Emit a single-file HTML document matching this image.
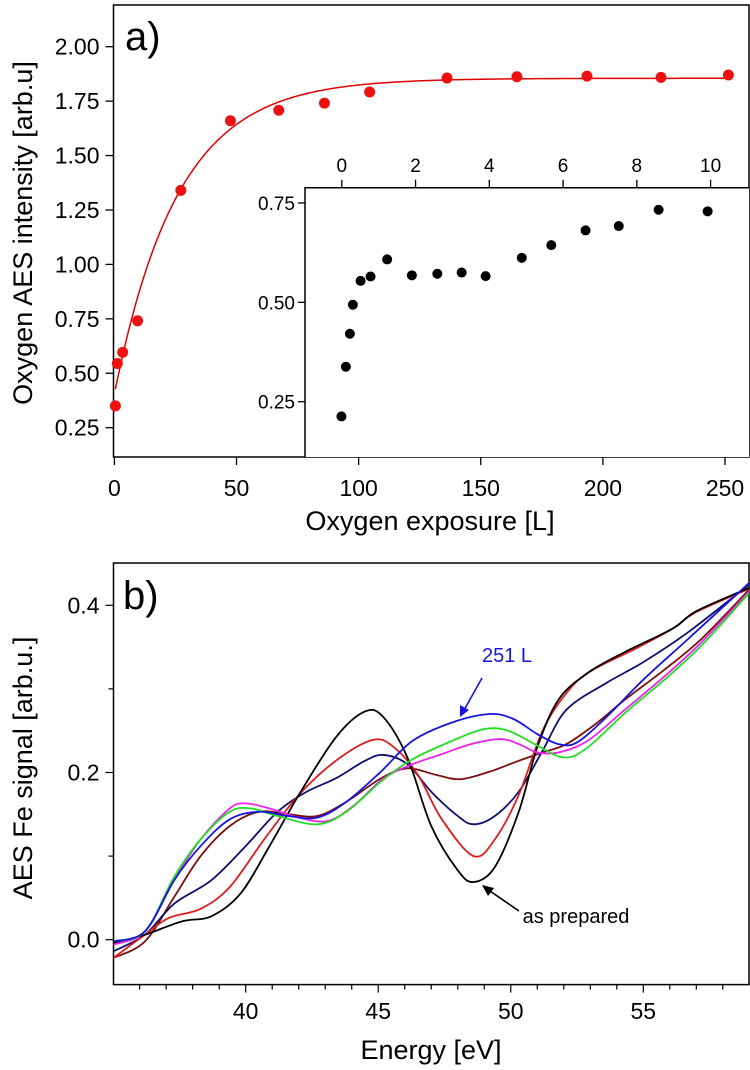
<!DOCTYPE html>
<html><head><meta charset="utf-8"><style>
html,body{margin:0;padding:0;background:#fff;}
svg{display:block;font-family:"Liberation Sans",sans-serif;}
</style></head><body>
<svg id="c" width="750" height="1070" viewBox="0 0 750 1070" xmlns="http://www.w3.org/2000/svg"></svg>
<script>
// ---- Panel a data ----
const exposureL = [0.4,1.2,3.4,9.5,27.2,47.5,67.3,86,104.5,136.2,164.8,193.5,223.8,251.4];
const oxygenIntensity = [0.35,0.545,0.596,0.741,1.34,1.66,1.708,1.741,1.792,1.856,1.862,1.865,1.859,1.87];
const fitParams = [1.855, 1.45, 26]; // A, B, tau : y = A - B*exp(-x/tau)
const aXTicks = [0,50,100,150,200,250];
const aYTicks = [0.25,0.5,0.75,1.0,1.25,1.5,1.75,2.0];
const aYTickLabels = ["0.25","0.50","0.75","1.00","1.25","1.50","1.75","2.00"];
// inset
const insetX = [-0.01,0.11,0.22,0.30,0.51,0.78,1.23,1.90,2.59,3.25,3.90,4.88,5.68,6.61,7.51,8.59,9.92];
const insetY = [0.213,0.338,0.421,0.494,0.554,0.565,0.608,0.568,0.572,0.575,0.566,0.612,0.644,0.681,0.692,0.733,0.729];
const insetXTicks = [0,2,4,6,8,10];
const insetYTicks = [0.25,0.5,0.75];
const insetYTickLabels = ["0.25","0.50","0.75"];
// ---- Panel b data ----
const bXTicks = [40,45,50,55];
const bYTicks = [0.0,0.2,0.4];
const bYTickLabels = ["0.0","0.2","0.4"];
const blackE = [35,36.2,37.6,38.7,39.8,40.9,42.0,43.4,44.5,45.2,46.1,47.0,48.0,48.6,49.4,50.3,51.0,51.8,52.9,54.3,56.1,57.0,59.0];
const blackV = [-0.004,0.006,0.022,0.028,0.055,0.112,0.173,0.242,0.273,0.266,0.218,0.136,0.083,0.069,0.087,0.153,0.230,0.287,0.319,0.344,0.372,0.393,0.421];
const redE = [35,36.2,37.1,38.3,39.4,40.7,42.0,43.4,44.8,45.6,46.5,47.4,48.6,49.4,50.3,51.2,52.1,53.0,54.7,56.1,57.0,59.0];
const redV = [-0.022,0.006,0.026,0.037,0.063,0.12,0.173,0.214,0.239,0.230,0.197,0.144,0.100,0.12,0.173,0.250,0.295,0.321,0.348,0.372,0.392,0.420];
const navyE = [35,36.2,37.3,38.7,40.0,41.2,42.3,43.4,44.5,45.2,46.1,47.0,48.0,48.6,49.4,50.3,51.2,52.1,53.6,55.0,56.7,59.0];
const navyV = [-0.014,0.006,0.043,0.071,0.112,0.153,0.177,0.193,0.214,0.221,0.21,0.177,0.148,0.138,0.148,0.177,0.226,0.275,0.307,0.332,0.368,0.425];
const brownE = [35,36.2,37.3,38.3,39.4,40.5,41.6,42.7,43.8,45.1,46.1,47.2,48.1,49.2,50.3,51.2,52.1,53.2,54.3,55.8,57.2,59.0];
const brownV = [-0.022,-0.002,0.051,0.10,0.136,0.153,0.15,0.148,0.165,0.193,0.205,0.197,0.192,0.201,0.214,0.224,0.234,0.258,0.287,0.323,0.36,0.419];
const magentaE = [35,36.2,37.3,38.3,39.4,40.0,40.9,42.0,43.1,44.1,45.2,46.3,47.4,48.5,49.6,50.3,51.0,51.8,52.9,54.3,55.8,57.2,59.0];
const magentaV = [-0.006,0.01,0.071,0.12,0.157,0.163,0.157,0.146,0.142,0.161,0.193,0.21,0.222,0.234,0.240,0.234,0.224,0.224,0.238,0.275,0.315,0.356,0.417];
const greenE = [35,36.2,37.3,38.3,39.4,40.2,41.2,42.7,43.8,45.1,46.3,47.8,49.0,49.9,50.9,52.0,52.9,54.3,55.8,57.2,59.0];
const greenV = [-0.002,0.01,0.075,0.12,0.153,0.157,0.148,0.138,0.153,0.189,0.216,0.238,0.252,0.250,0.234,0.218,0.230,0.271,0.311,0.352,0.415];
const blueE = [35,36.2,37.3,38.3,39.4,40.5,41.6,42.7,43.8,45.1,46.3,47.8,49.2,50.1,51.0,51.8,52.5,53.6,55.0,56.7,59.0];
const blueV = [-0.002,0.01,0.071,0.112,0.144,0.153,0.148,0.146,0.165,0.201,0.238,0.26,0.27,0.264,0.246,0.234,0.236,0.266,0.311,0.36,0.427];

const NS="http://www.w3.org/2000/svg";
const svg=document.getElementById('c');
function mk(tag,attrs,parent,name,txt){const e=document.createElementNS(NS,tag);for(const k in attrs)e.setAttribute(k,attrs[k]);


if(txt!==undefined)e.textContent=txt;(parent||svg).appendChild(e);return e;}
function lin(d0,d1,r0,r1){return v=>r0+(v-d0)/(d1-d0)*(r1-r0);}
function smooth(pts){let d=`M${pts[0][0]},${pts[0][1]}`;for(let i=0;i<pts.length-1;i++){const p0=pts[Math.max(0,i-1)],p1=pts[i],p2=pts[i+1],p3=pts[Math.min(pts.length-1,i+2)];
const c1=[p1[0]+(p2[0]-p0[0])/6,p1[1]+(p2[1]-p0[1])/6],c2=[p2[0]-(p3[0]-p1[0])/6,p2[1]-(p3[1]-p1[1])/6];d+=`C${c1[0]},${c1[1]} ${c2[0]},${c2[1]} ${p2[0]},${p2[1]}`;}return d;}

// ===== Panel a =====
const aL=113.5,aR=749,aT=5,aB=457;
const ax=lin(0,250,114.4,725), ay=lin(2.0,0.25,46.7,427.7);
const ga=mk('g',{},svg,'panel-a');
mk('rect',{x:aL,y:aT,width:aR-aL,height:aB-aT,fill:'none',stroke:'#000','stroke-width':1.5},ga,'panel-a-frame');
aXTicks.forEach(t=>{mk('line',{x1:ax(t),x2:ax(t),y1:aB,y2:aB+8,stroke:'#000','stroke-width':1.3},ga,'x-tick');
mk('text',{x:ax(t),y:496,'font-size':23,'text-anchor':'middle'},ga,'x-tick-label',String(t));});
aYTicks.forEach((t,i)=>{mk('line',{x1:aL-8,x2:aL,y1:ay(t),y2:ay(t),stroke:'#000','stroke-width':1.3},ga,'y-tick');
mk('text',{x:aL-14,y:ay(t)+8,'font-size':23,'text-anchor':'end'},ga,'y-tick-label',aYTickLabels[i]);});
mk('text',{x:430,y:530,'font-size':27,'text-anchor':'middle'},ga,'x-axis-title','Oxygen exposure [L]');
mk('text',{x:0,y:0,'font-size':27,'text-anchor':'middle',transform:'translate(32,233) rotate(-90)'},ga,'y-axis-title','Oxygen AES intensity [arb.u]');
mk('text',{x:125,y:50,'font-size':40},ga,'panel-label-a','a)');
// fit
let fp=[];for(let x=0.4;x<=252;x+=1){fp.push([ax(x),ay(fitParams[0]-fitParams[1]*Math.exp(-x/fitParams[2]))]);}
mk('path',{d:'M'+fp.map(p=>p.join(',')).join('L'),fill:'none',stroke:'#e00000','stroke-width':1.5},ga,'fit-curve');
exposureL.forEach((x,i)=>mk('circle',{cx:ax(x),cy:ay(oxygenIntensity[i]),r:5.5,fill:'#ee1111'},ga,'data-point'));
// inset
const iL=305,iR=749,iT=187.7,iB=457;
const ix=lin(0,10,341.8,710.6), iy=lin(0.75,0.25,203,401.7);
const gi=mk('g',{},ga,'inset');
mk('rect',{x:iL,y:iT,width:iR-iL,height:iB-iT,fill:'#fff',stroke:'none'},gi,'inset-bg');
mk('path',{d:`M${iL},${iB}L${iL},${iT}L${iR},${iT}`,fill:'none',stroke:'#000','stroke-width':1.5},gi,'inset-frame');
insetXTicks.forEach(t=>{mk('line',{x1:ix(t),x2:ix(t),y1:iT-8,y2:iT,stroke:'#000','stroke-width':1.3},gi,'inset-x-tick');
mk('text',{x:ix(t),y:172,'font-size':19,'text-anchor':'middle'},gi,'inset-x-tick-label',String(t));});
insetYTicks.forEach((t,i)=>{mk('line',{x1:iL-7,x2:iL,y1:iy(t),y2:iy(t),stroke:'#000','stroke-width':1.3},gi,'inset-y-tick');
mk('text',{x:iL-10,y:iy(t)+7,'font-size':19,'text-anchor':'end'},gi,'inset-y-tick-label',insetYTickLabels[i]);});
insetX.forEach((x,i)=>mk('circle',{cx:ix(x),cy:iy(insetY[i]),r:5,fill:'#000'},gi,'inset-point'));

// ===== Panel b =====
const bL=113.5,bR=749,bT=563,bB=984.6;
const bx=lin(40,55,245.7,643.3), by=lin(0,0.4,939.7,605.3);
const gb=mk('g',{},svg,'panel-b');
const defs=mk('defs',{},gb,'defs');
const cp=mk('clipPath',{id:'bclip'},defs,'clip');mk('rect',{x:bL,y:bT,width:bR-bL,height:bB-bT},cp,'clip-rect');
mk('rect',{x:bL,y:bT,width:bR-bL,height:bB-bT,fill:'none',stroke:'#000','stroke-width':1.5},gb,'panel-b-frame');
for(let e=36;e<=58;e++){const maj=bXTicks.includes(e);mk('line',{x1:bx(e),x2:bx(e),y1:bB,y2:bB+(maj?8:5),stroke:'#000','stroke-width':1.2},gb,'x-tick');}
bXTicks.forEach(t=>mk('text',{x:bx(t),y:1019,'font-size':23,'text-anchor':'middle'},gb,'x-tick-label',String(t)));
[0,0.1,0.2,0.3,0.4].forEach(t=>mk('line',{x1:bL-(Math.round(t*10)%2?5:8),x2:bL,y1:by(t),y2:by(t),stroke:'#000','stroke-width':1.2},gb,'y-tick'));
bYTicks.forEach((t,i)=>mk('text',{x:bL-14,y:by(t)+8,'font-size':23,'text-anchor':'end'},gb,'y-tick-label',bYTickLabels[i]));
mk('text',{x:431,y:1059,'font-size':27,'text-anchor':'middle'},gb,'x-axis-title','Energy [eV]');
mk('text',{x:0,y:0,'font-size':27,'text-anchor':'middle',transform:'translate(32,768) rotate(-90)'},gb,'y-axis-title','AES Fe signal [arb.u.]');
mk('text',{x:123,y:609,'font-size':40},gb,'panel-label-b','b)');
const gc=mk('g',{'clip-path':'url(#bclip)'},gb,'curves');
[[brownE,brownV,'#7a1010','curve-brown'],[navyE,navyV,'#10106e','curve-navy'],[redE,redV,'#e01b1b','curve-red'],[blackE,blackV,'#000','curve-as-prepared'],
 [magentaE,magentaV,'#ee22ee','curve-magenta'],[greenE,greenV,'#22dd22','curve-green'],[blueE,blueV,'#1515e0','curve-251L']].forEach(s=>{
 mk('path',{d:smooth(s[0].map((e,i)=>[bx(e),by(s[1][i])])),fill:'none',stroke:s[2],'stroke-width':1.8},gc,s[3]);});
// annotations
mk('text',{x:507,y:662,'font-size':20,'text-anchor':'middle',fill:'#1515e0'},gb,'label-251L','251 L');
mk('line',{x1:482,y1:678,x2:463,y2:712,stroke:'#1515e0','stroke-width':1.6},gb,'arrow-251L');
mk('path',{d:'M460,717 L460,705 L469,710 Z',fill:'#1515e0'},gb,'arrowhead-251L');
mk('text',{x:576,y:923,'font-size':20,'text-anchor':'middle'},gb,'label-as-prepared','as prepared');
mk('line',{x1:519,y1:911,x2:487,y2:889,stroke:'#000','stroke-width':1.6},gb,'arrow-as-prepared');
mk('path',{d:'M482,885 L494,888 L488,896 Z',fill:'#000'},gb,'arrowhead-as-prepared');
</script>
</body></html>
